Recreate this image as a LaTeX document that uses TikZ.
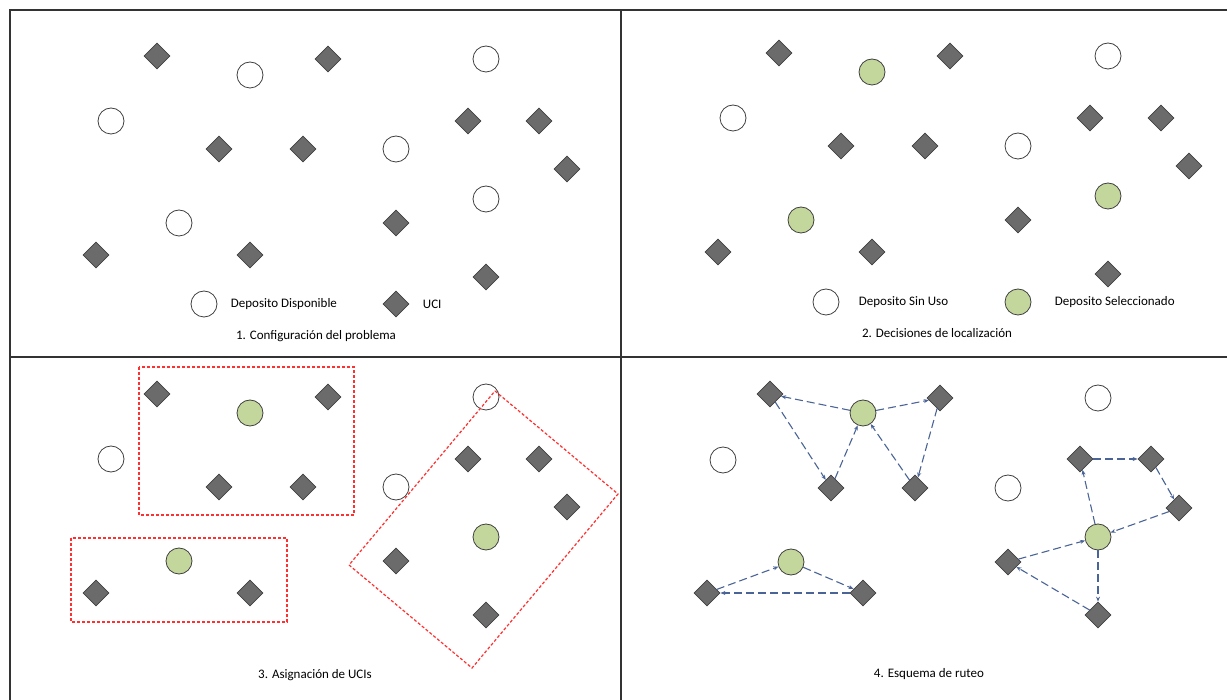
\documentclass[tikz,border=0pt]{standalone}
\usepackage{fontspec}
\setmainfont{Carlito}
\usetikzlibrary{arrows.meta,positioning,shapes.geometric}
\definecolor{ucigris}{HTML}{6B6B6B}
\definecolor{depverde}{HTML}{C3D69B}
\definecolor{rutazul}{HTML}{4A6497}
\definecolor{zonarojo}{HTML}{FF3030}

\begin{document}
\begin{tikzpicture}[x=1pt, y=-1pt, font=\fontsize{13}{15}\selectfont,
  uci/.style={diamond, draw=black!75, fill=ucigris, line width=0.8pt, minimum size=26pt, inner sep=0pt},
  depo/.style={circle, draw=black!75, fill=white, line width=0.8pt, minimum size=26pt, inner sep=0pt},
  depsel/.style={depo, fill=depverde},
  zona/.style={draw=zonarojo, line width=1.2pt, dash pattern=on 3pt off 2pt},
  ruta/.style={draw=rutazul, line width=1.1pt, dash pattern=on 8pt off 4pt, -{Stealth[length=5pt,width=4pt]}},
  marco/.style={draw=black!80, line width=1.8pt}]
\useasboundingbox (0,0) rectangle (1227,700);
\fill[white] (0,0) rectangle (1227,700);

% marco
\draw[marco] (10,700) -- (10,10) -- (1227,10);
\draw[marco] (621,10) -- (621,700);
\draw[marco] (10,357) -- (1227,357);

% 1. Configuracion del problema
\foreach \x/\y [count=\i] in {157/56, 328/59, 219/149, 303/149, 468/121, 539/121, 567/169, 396/223, 96/255, 250/255, 486/277}
  \node[uci] (a-u\i) at (\x,\y) {};
\foreach \x/\y [count=\i] in {250/75, 486/59, 111/121, 396/149, 486/199, 179/223}
  \node[depo] (a-d\i) at (\x,\y) {};
\node[depo] (leg-disp) at (204,304) {};
\node[right=10pt of leg-disp] (leg-disp-txt) {Deposito Disponible};
\node[uci] (leg-uci) at (396,304) {};
\node[right=10pt of leg-uci] (leg-uci-txt) {UCI};
\node (cap1) at (316,336) {1. Configuración del problema};

% 2. Decisiones de localizacion
\begin{scope}[shift={(622,-3)}]
\foreach \x/\y [count=\i] in {157/56, 328/59, 219/149, 303/149, 468/121, 539/121, 567/169, 396/223, 96/255, 250/255, 486/277}
  \node[uci] (b-u\i) at (\x,\y) {};
\foreach \x/\y [count=\i] in {486/59, 111/121, 396/149}
  \node[depo] (b-d\i) at (\x,\y) {};
\foreach \x/\y [count=\i] in {250/75, 486/199, 179/223}
  \node[depsel] (b-s\i) at (\x,\y) {};
\end{scope}
\node[depo] (leg-sinuso) at (826,302) {};
\node[right=16pt of leg-sinuso] (leg-sinuso-txt) {Deposito Sin Uso};
\node[depsel] (leg-sel) at (1018,302) {};
\node[right=20pt of leg-sel] (leg-sel-txt) {Deposito Seleccionado};
\node (cap2) at (937,333) {2. Decisiones de localización};

% 3. Asignacion de UCIs
\begin{scope}[shift={(0,338)}]
\foreach \x/\y [count=\i] in {157/56, 328/59, 219/149, 303/149, 468/121, 539/121, 567/169, 396/223, 96/255, 250/255, 486/277}
  \node[uci] (c-u\i) at (\x,\y) {};
\foreach \x/\y [count=\i] in {486/59, 111/121, 396/149}
  \node[depo] (c-d\i) at (\x,\y) {};
\foreach \x/\y [count=\i] in {250/75, 486/199, 179/223}
  \node[depsel] (c-s\i) at (\x,\y) {};
\end{scope}
\draw[zona] (139,367) rectangle (354,515);
\draw[zona] (71,538) rectangle (287,622);
\draw[zona] (495,391) -- (618,494) -- (472,668) -- (349,565) -- cycle;
\node (cap3) at (315,675) {3. Asignación de UCIs};

% 4. Esquema de ruteo
\node[uci] (r-a1) at (770,394) {};
\node[depsel] (r-da) at (863,413) {};
\node[uci] (r-a4) at (940,398) {};
\node[depo] (r-w1) at (1098,398) {};
\node[depo] (r-w2) at (723,460) {};
\node[uci] (r-a2) at (831,488) {};
\node[uci] (r-a3) at (915,488) {};
\node[depo] (r-w3) at (1008,488) {};
\node[uci] (r-c1) at (1080,459) {};
\node[uci] (r-c2) at (1151,459) {};
\node[uci] (r-c3) at (1179,508) {};
\node[depsel] (r-dc) at (1098,537) {};
\node[depsel] (r-db) at (791,562) {};
\node[uci] (r-c4) at (1008,562) {};
\node[uci] (r-b1) at (707,593) {};
\node[uci] (r-b2) at (863,593) {};
\node[uci] (r-c5) at (1098,615) {};

% rutas
\draw[ruta] (r-da) -- (r-a1);
\draw[ruta] (r-a1) -- (r-a2);
\draw[ruta] (r-a2) -- (r-da);
\draw[ruta] (r-da) -- (r-a4);
\draw[ruta] (r-a4) -- (r-a3);
\draw[ruta] (r-a3) -- (r-da);
\draw[ruta] (r-b1) -- (r-db);
\draw[ruta] (r-db) -- (r-b2);
\draw[ruta] (r-b2) -- (r-b1);
\draw[ruta] (r-dc) -- (r-c1);
\draw[ruta] (r-c1) -- (r-c2);
\draw[ruta] (r-c2) -- (r-c3);
\draw[ruta] (r-c3) -- (r-dc);
\draw[ruta] (r-dc) -- (r-c5);
\draw[ruta] (r-c5) -- (r-c4);
\draw[ruta] (r-c4) -- (r-dc);
\node (cap4) at (929,674) {4. Esquema de ruteo};
\end{tikzpicture}
\end{document}
